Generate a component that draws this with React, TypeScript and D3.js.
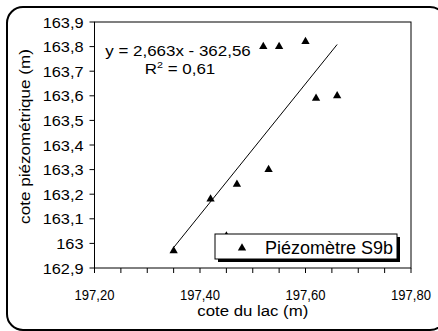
import * as d3 from "d3";

// cote du lac (m) vs cote piézométrique (m), piézomètre S9b
const lakeLevel = [197.35, 197.42, 197.45, 197.47, 197.53, 197.52, 197.55, 197.6, 197.62, 197.66];
const headLevel = [162.97, 163.18, 163.03, 163.24, 163.3, 163.8, 163.8, 163.82, 163.59, 163.6];
const xTicks = [197.2, 197.4, 197.6, 197.8];
const xMinorTicks = [197.2, 197.25, 197.3, 197.35, 197.4, 197.45, 197.5, 197.55, 197.6, 197.65, 197.7, 197.75, 197.8];
const yTicks = [162.9, 163.0, 163.1, 163.2, 163.3, 163.4, 163.5, 163.6, 163.7, 163.8, 163.9];
const trendSlope = 2.663;
const trendIntercept = -362.56;
const trendR2 = "0,61";
const seriesName = "Piézomètre S9b";

const W = 438;
const H = 331;
const margin = { top: 22, right: 27, bottom: 63, left: 94.5 };
const font = "Liberation Sans, Arial, sans-serif";

export default function App() {
  const x = d3.scaleLinear().domain([197.2, 197.8]).range([margin.left, W - margin.right]);
  const y = d3.scaleLinear().domain([162.9, 163.9]).range([H - margin.bottom, margin.top]);
  const x0 = x.range()[0], x1 = x.range()[1];
  const y0 = y.range()[0], y1 = y.range()[1];

  const tri = d3.symbol(d3.symbolTriangle).size(30)()!;
  const fmtX = (v: number) => v.toFixed(2).replace(".", ",");
  const fmtY = (v: number) => String(+v.toFixed(1)).replace(".", ",");

  const ext = d3.extent(lakeLevel) as [number, number];
  const trend = ext.map((v) => [x(v), y(trendSlope * v + trendIntercept)] as [number, number]);

  const pts = lakeLevel.map((v, i) => ({ x: v, y: headLevel[i] }));

  return (
    <svg width={W} height={H} style={{ position: "absolute", left: 0, top: 0, background: "#fff" }} fontFamily={font}>
      <rect x={7} y={7} width={439} height={323} rx={16} fill="none" stroke="#000" strokeWidth={2} />

      {/* frame */}
      <rect x={x0} y={y1} width={x1 - x0} height={y0 - y1} fill="none" stroke="#000" strokeWidth={1} />

      {/* y axis */}
      {yTicks.map((t) => (
        <g key={t}>
          <line x1={x0 - 5} x2={x0} y1={y(t)} y2={y(t)} stroke="#000" />
          <text transform={`translate(${x0 - 11},${y(t) + 5.5}) scale(1.09,1)`} textAnchor="end" fontSize={15}>
            {fmtY(t)}
          </text>
        </g>
      ))}

      {/* x axis */}
      {xMinorTicks.map((t) => (
        <line key={t} x1={x(t)} x2={x(t)} y1={y0} y2={y0 + 5} stroke="#000" />
      ))}
      {xTicks.map((t) => (
        <text key={t} transform={`translate(${x(t)},299.5) scale(0.87,1)`} textAnchor="middle" fontSize={15}>
          {fmtX(t)}
        </text>
      ))}

      <text transform={`translate(${(x0 + x1) / 2},315.5) scale(1.12,1)`} textAnchor="middle" fontSize={15}>
        cote du lac (m)
      </text>
      <text transform={`translate(29.5,136.5) rotate(-90) scale(1.14,1)`} textAnchor="middle" fontSize={15}>
        cote piézométrique (m)
      </text>

      {/* trend line */}
      <line x1={trend[0][0]} y1={trend[0][1]} x2={trend[1][0]} y2={trend[1][1]} stroke="#000" strokeWidth={1} />

      {/* points */}
      {pts.map((p, i) => (
        <path key={i} d={tri} transform={`translate(${x(p.x)},${y(p.y)})`} fill="#000" />
      ))}

      {/* equation */}
      <text transform="translate(178,55.5) scale(1.13,1)" textAnchor="middle" fontSize={15}>
        y = 2,663x - 362,56
      </text>
      <text transform="translate(180,73.5) scale(1.13,1)" textAnchor="middle" fontSize={15}>
        R<tspan fontSize={9.5} dy={-6}>2</tspan>
        <tspan dy={6}> = {trendR2}</tspan>
      </text>

      {/* legend */}
      <rect x={218} y={237} width={182} height={25} fill="#000" />
      <rect x={215} y={234} width={182} height={25} fill="#fff" stroke="#000" strokeWidth={1} />
      <path d={tri} transform="translate(242,248)" fill="#000" />
      <text x={265} y={254} fontSize={18}>
        {seriesName}
      </text>
    </svg>
  );
}
